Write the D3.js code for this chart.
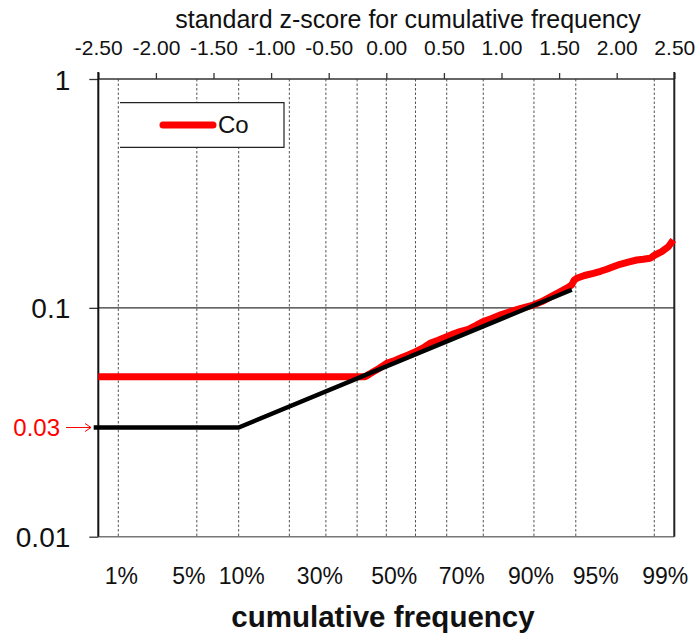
<!DOCTYPE html>
<html>
<head>
<meta charset="utf-8">
<script src="https://cdn.jsdelivr.net/npm/d3@7"></script>
<style>
  body { margin: 0; background: #fff; }
  text { font-family: "Liberation Sans", Arial, sans-serif; }
</style>
</head>
<body>
<svg id="chart" width="695" height="635"></svg>
<script>
// z-score ticks on the top axis
const zTicks = [-2.5, -2, -1.5, -1, -0.5, 0, 0.5, 1, 1.5, 2, 2.5];
// cumulative frequencies (%) drawn as dotted guide lines
const freqGrid = [1, 5, 10, 20, 30, 40, 50, 60, 70, 80, 90, 95, 99];
// cumulative frequencies (%) labelled under the plot
const freqLabels = [1, 5, 10, 30, 50, 70, 90, 95, 99];
// concentration ticks on the log axis
const valueTicks = [1, 0.1, 0.01];

// Co: ranked concentrations against their standard z-score
const coZ = [-2.5, -0.25, -0.185, -0.15, -0.113, -0.06, 0.003, 0.06, 0.119, 0.19, 0.255, 0.32,
  0.379, 0.45, 0.524, 0.58, 0.64, 0.712, 0.78, 0.837, 0.92, 1.0, 1.074, 1.17, 1.276, 1.35,
  1.43, 1.508, 1.57, 1.609, 1.63, 1.653, 1.72, 1.797, 1.86, 1.913, 1.97, 2.029, 2.10, 2.174,
  2.23, 2.289, 2.332, 2.391, 2.448, 2.491];
const coValue = [0.05, 0.05, 0.05, 0.0512, 0.0526, 0.0545, 0.0572, 0.0585, 0.0602, 0.0622, 0.0643, 0.0668,
  0.0700, 0.0722, 0.0748, 0.0768, 0.0787, 0.0805, 0.0838, 0.0870, 0.0900, 0.0935, 0.0962, 0.0995, 0.1029, 0.1065,
  0.1120, 0.1176, 0.1222, 0.1258, 0.1320, 0.1346, 0.1385, 0.1416, 0.1445, 0.1474, 0.1512, 0.155, 0.1585, 0.1618,
  0.1630, 0.1646, 0.1702, 0.176, 0.185, 0.1979];

// fitted background line with its lower bound
const fitZ = [-2.54, -1.2816, 1.61];
const fitValue = [0.03, 0.03, 0.12];
const markedValue = 0.03;

// inverse standard normal CDF (Acklam's rational approximation)
function probit(p) {
  const a = [-3.969683028665376e+01, 2.209460984245205e+02, -2.759285104469687e+02, 1.383577518672690e+02, -3.066479806614716e+01, 2.506628277459239e+00];
  const b = [-5.447609879822406e+01, 1.615858368580409e+02, -1.556989798598866e+02, 6.680131188771972e+01, -1.328068155288572e+01];
  const c = [-7.784894002430293e-03, -3.223964580411365e-01, -2.400758277161838e+00, -2.549732539343734e+00, 4.374664141464968e+00, 2.938163982698783e+00];
  const d = [7.784695709041462e-03, 3.224671290700398e-01, 2.445134137142996e+00, 3.754408661907416e+00];
  const pl = 0.02425;
  if (p < pl) {
    const q = Math.sqrt(-2 * Math.log(p));
    return (((((c[0]*q+c[1])*q+c[2])*q+c[3])*q+c[4])*q+c[5]) / ((((d[0]*q+d[1])*q+d[2])*q+d[3])*q+1);
  }
  if (p <= 1 - pl) {
    const q = p - 0.5, r = q * q;
    return (((((a[0]*r+a[1])*r+a[2])*r+a[3])*r+a[4])*r+a[5])*q / (((((b[0]*r+b[1])*r+b[2])*r+b[3])*r+b[4])*r+1);
  }
  const q = Math.sqrt(-2 * Math.log(1 - p));
  return -(((((c[0]*q+c[1])*q+c[2])*q+c[3])*q+c[4])*q+c[5]) / ((((d[0]*q+d[1])*q+d[2])*q+d[3])*q+1);
}

const svg = d3.select("#chart");
const plotLeft = 98.3, plotRight = 674.3, plotTop = 79, plotBottom = 536.7;

const x = d3.scaleLinear().domain([-2.5, 2.5]).range([plotLeft, plotRight]);
const y = d3.scaleLog().domain([0.01, 1]).range([plotBottom, plotTop]);

// dotted cumulative-frequency guides
svg.append("g").selectAll("line").data(freqGrid).join("line")
  .attr("x1", d => x(probit(d / 100))).attr("x2", d => x(probit(d / 100)))
  .attr("y1", plotTop).attr("y2", plotBottom)
  .attr("stroke", "#555").attr("stroke-width", 1).attr("stroke-dasharray", "2.5,2");

// log axis with gridline at 0.1
const yAxis = svg.append("g").attr("transform", `translate(${plotLeft},0)`)
  .call(d3.axisLeft(y).tickValues(valueTicks).tickSize(9).tickFormat(d => String(d)));
yAxis.select(".domain").remove();
yAxis.selectAll(".tick line").attr("stroke", "#333").attr("stroke-width", 1.3);
yAxis.selectAll(".tick text")
  .attr("x", -28).attr("dy", "0.36em")
  .attr("font-size", 28).attr("fill", "#111")
  .style("font-family", "'Liberation Sans', Arial, sans-serif");
svg.append("line").attr("x1", plotLeft).attr("x2", plotRight).attr("y1", y(0.1)).attr("y2", y(0.1))
  .attr("stroke", "#333").attr("stroke-width", 1.3);

// z-score axis along the top
const xAxis = svg.append("g").attr("transform", `translate(0,${plotTop})`)
  .call(d3.axisTop(x).tickValues(zTicks).tickSize(6).tickFormat(d => d3.format(".2f")(d).replace("\u2212", "-")));
xAxis.select(".domain").remove();
xAxis.selectAll(".tick line").attr("stroke", "#333").attr("stroke-width", 1.3);
xAxis.selectAll(".tick text")
  .attr("y", -24).attr("font-size", 21).attr("fill", "#111")
  .style("font-family", "'Liberation Sans', Arial, sans-serif");

// plot frame
svg.append("line").attr("x1", plotLeft).attr("x2", plotRight).attr("y1", plotTop).attr("y2", plotTop)
  .attr("stroke", "#333").attr("stroke-width", 1.5);
svg.append("line").attr("x1", plotLeft).attr("x2", plotRight).attr("y1", plotBottom).attr("y2", plotBottom)
  .attr("stroke", "#777").attr("stroke-width", 1.5);
svg.append("line").attr("x1", plotLeft).attr("x2", plotLeft).attr("y1", plotTop - 7).attr("y2", plotBottom)
  .attr("stroke", "#111").attr("stroke-width", 2);
svg.append("line").attr("x1", plotRight).attr("x2", plotRight).attr("y1", plotTop - 7).attr("y2", plotBottom)
  .attr("stroke", "#222").attr("stroke-width", 2);

// Co series
const coData = coZ.map((z, i) => ({ z, v: coValue[i] }));
const fitData = fitZ.map((z, i) => ({ z, v: fitValue[i] }));
const line = d3.line().x(d => x(d.z)).y(d => y(d.v));

svg.append("path").datum(coData).attr("d", line)
  .attr("fill", "none").attr("stroke", "#ff0000").attr("stroke-width", 7)
  .attr("stroke-linejoin", "round");

svg.append("path").datum(fitData).attr("d", line)
  .attr("fill", "none").attr("stroke", "#000").attr("stroke-width", 4.5)
  .attr("stroke-linejoin", "round");

// marked threshold value with arrow
const ym = y(markedValue);
svg.append("text").attr("x", 60).attr("y", ym).attr("dy", "0.36em")
  .attr("text-anchor", "end").attr("font-size", 24).attr("fill", "#ff0000").text("0.03");
svg.append("line").attr("x1", 66).attr("x2", 91).attr("y1", ym).attr("y2", ym)
  .attr("stroke", "#ff0000").attr("stroke-width", 1);
svg.append("path").attr("d", `M${85},${ym - 4}L${91},${ym}L${85},${ym + 4}`)
  .attr("fill", "none").attr("stroke", "#ff0000").attr("stroke-width", 1);

// legend
const lg = svg.append("g");
lg.append("rect").attr("x", 120).attr("y", 102.7).attr("width", 164).attr("height", 44.6).attr("fill", "#fff");
lg.append("path").attr("d", "M120,102.7H284V147.3H120")
  .attr("fill", "none").attr("stroke", "#222").attr("stroke-width", 1.2);
lg.append("line").attr("x1", 163).attr("x2", 213).attr("y1", 125).attr("y2", 125)
  .attr("stroke", "#ff0000").attr("stroke-width", 7).attr("stroke-linecap", "round");
lg.append("text").attr("x", 218).attr("y", 133).attr("font-size", 24).attr("fill", "#111").text("Co");

// cumulative-frequency labels under the plot (set as a text row, so a few sit off their guides)
const labelNudge = { 1: 3, 5: -8, 10: 3, 30: -6, 50: 8, 70: 15, 90: -3, 95: 20, 99: 11 };
svg.append("g").selectAll("text").data(freqLabels).join("text")
  .attr("x", d => x(probit(d / 100)) + labelNudge[d]).attr("y", 584)
  .attr("text-anchor", "middle").attr("font-size", 23).attr("fill", "#111")
  .text(d => d + "%");

// axis titles
svg.append("text").attr("x", 408).attr("y", 28).attr("text-anchor", "middle")
  .attr("font-size", 25).attr("fill", "#111").text("standard z-score for cumulative frequency");
svg.append("text").attr("x", 383).attr("y", 627).attr("text-anchor", "middle")
  .attr("font-size", 29.5).attr("font-weight", "bold").attr("fill", "#111").text("cumulative frequency");
</script>
</body>
</html>
